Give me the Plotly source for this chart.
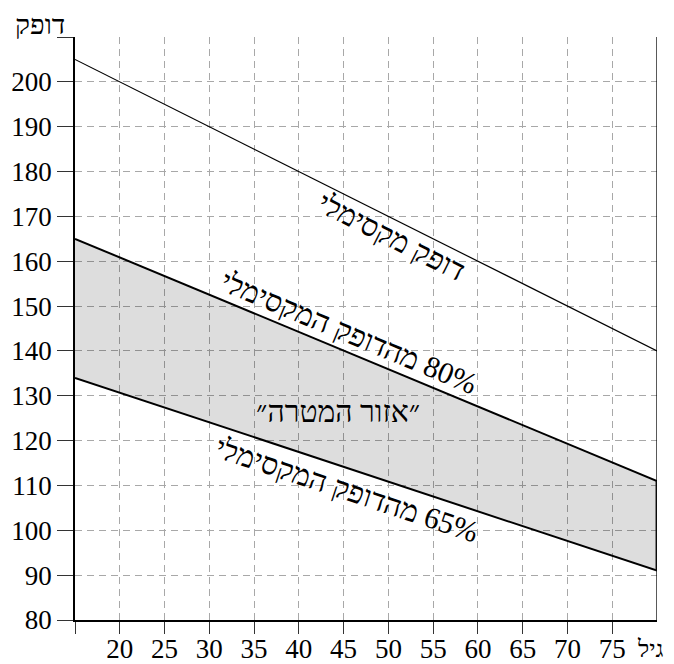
import plotly.graph_objects as go

# ---- data ----
ages = [15, 80]
max_hr = [205, 140]
hr80 = [165, 111]
hr65 = [134, 91]

x_tickvals = [15, 20, 25, 30, 35, 40, 45, 50, 55, 60, 65, 70, 75]
x_ticktext = ["", "20", "25", "30", "35", "40", "45", "50", "55", "60", "65", "70", "75"]
y_tickvals = [80, 90, 100, 110, 120, 130, 140, 150, 160, 170, 180, 190, 200, 210]
y_ticktext = ["80", "90", "100", "110", "120", "130", "140", "150", "160", "170", "180", "190", "200", ""]

label_max = "דופק מקסימלי"
label_80 = "\u200F80% מהדופק המקסימלי"
label_65 = "\u200F65% מהדופק המקסימלי"
label_zone = "״אזור המטרה״"
y_title = "דופק"
x_title = "גיל"

FONT = "Liberation Serif"
HEB_FONT = "Liberation Serif, Liberation Sans, DejaVu Sans"

fig = go.Figure()

# target zone band
fig.add_trace(go.Scatter(
    x=ages + ages[::-1], y=hr80 + hr65[::-1],
    fill="toself", fillcolor="rgba(0,0,0,0.135)",
    line=dict(width=0), mode="lines", hoverinfo="skip", showlegend=False))

fig.add_trace(go.Scatter(x=ages, y=max_hr, mode="lines",
                         line=dict(color="black", width=1.2), showlegend=False))
fig.add_trace(go.Scatter(x=ages, y=hr80, mode="lines",
                         line=dict(color="black", width=2), showlegend=False))
fig.add_trace(go.Scatter(x=ages, y=hr65, mode="lines",
                         line=dict(color="black", width=2), showlegend=False))
# right edge of the band
fig.add_trace(go.Scatter(x=[ages[-1], ages[-1]], y=[hr65[-1], hr80[-1]], mode="lines",
                         line=dict(color="#222", width=3), showlegend=False))

# right border line
fig.add_shape(type="line", xref="x", yref="y",
              x0=ages[-1], x1=ages[-1], y0=y_tickvals[0], y1=y_tickvals[-1],
              line=dict(color="black", width=1.3))

ann_font = dict(family=HEB_FONT, size=30, color="black")
fig.add_annotation(x=50.4, y=165.6, text=label_max, showarrow=False,
                   textangle=26.6, font=ann_font)
fig.add_annotation(x=45.7, y=144.2, text=label_80, showarrow=False,
                   textangle=22.6, font=ann_font)
fig.add_annotation(x=45.4, y=109.2, text=label_65, showarrow=False,
                   textangle=18.3, font=ann_font)
fig.add_annotation(x=44.4, y=126.6, text=label_zone, showarrow=False,
                   font=ann_font)
fig.add_annotation(xref="paper", yref="paper", x=-0.06, y=1.021, text=y_title,
                   showarrow=False, font=dict(family=HEB_FONT, size=28, color="black"),
                   xanchor="center", yanchor="middle")
fig.add_annotation(xref="paper", yref="paper", x=0.988, y=-0.05, text=x_title,
                   showarrow=False, font=dict(family=HEB_FONT, size=24, color="black"),
                   xanchor="center", yanchor="middle")

axis_common = dict(
    showline=True, linecolor="black", linewidth=1.5,
    ticks="outside", tickcolor="#333", tickwidth=1.3,
    showgrid=True, gridcolor="#a8a8a8", gridwidth=1, griddash="7px,5px",
    zeroline=False, automargin=False,
    tickfont=dict(family=FONT, size=27, color="black"),
)

fig.update_xaxes(range=[ages[0], ages[-1]], tickmode="array",
                 tickvals=x_tickvals, ticktext=x_ticktext, ticklen=12,
                 ticklabelstandoff=-8, **axis_common)
fig.update_yaxes(range=[y_tickvals[0], y_tickvals[-1]], tickmode="array",
                 tickvals=y_tickvals, ticktext=y_ticktext, ticklen=16, **axis_common)

# page body has an 8px margin, so the figure is sized/padded to compensate
fig.update_layout(
    width=666, height=656, autosize=False,
    margin=dict(l=67, r=17, t=29, b=44),
    plot_bgcolor="white", paper_bgcolor="white",
    font=dict(family=FONT),
)

fig.write_html("out.html")
